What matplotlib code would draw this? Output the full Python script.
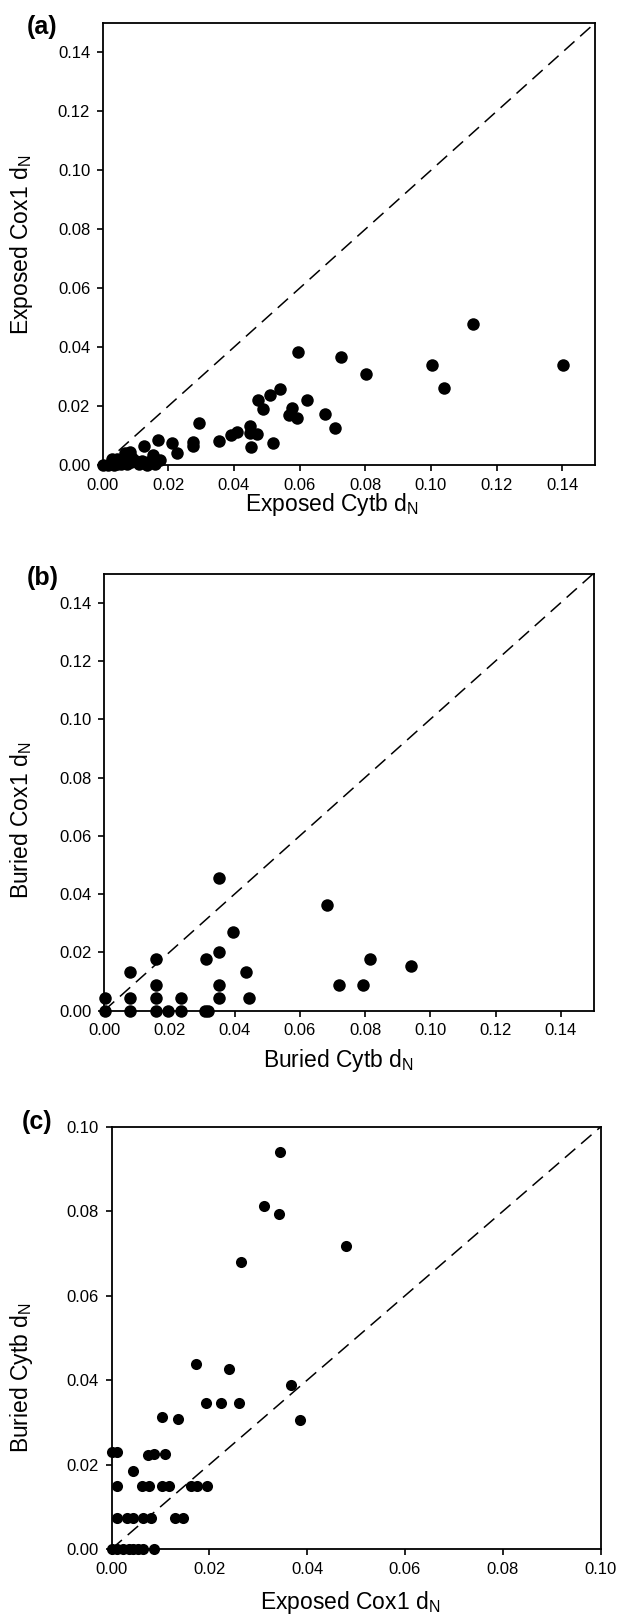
import numpy as np
import matplotlib.pyplot as plt

plt.rcParams['font.family'] = ['Liberation Sans', 'DejaVu Sans']
plt.rcParams['mathtext.default'] = 'regular'

# (a) exposed residues: Cytb dN (x) vs Cox1 dN (y)
exp_cytb = [0.0596, 0.0725, 0.0801, 0.1003, 0.1129, 0.1040, 0.1402,
            0.0541, 0.0510, 0.0473, 0.0488, 0.0621, 0.0576, 0.0568, 0.0591, 0.0677, 0.0707,
            0.0294, 0.0353, 0.0392, 0.0408, 0.0449, 0.0450, 0.0469, 0.0451, 0.0519,
            0.0274, 0.0275, 0.0210, 0.0225, 0.0168, 0.0125,
            0.0083, 0.0068, 0.0027, 0.0154, 0.0174, 0.0139, 0.0120, 0.0100, 0.0085,
            0.0060, 0.0045, 0.0015, 0.0000, 0.0035, 0.0055, 0.0075, 0.0110, 0.0135,
            0.0160, 0.0090, 0.0045]
exp_cox1 = [0.0384, 0.0365, 0.0310, 0.0341, 0.0477, 0.0262, 0.0339,
            0.0259, 0.0236, 0.0220, 0.0191, 0.0219, 0.0193, 0.0171, 0.0160, 0.0172, 0.0126,
            0.0141, 0.0082, 0.0102, 0.0113, 0.0133, 0.0107, 0.0104, 0.0060, 0.0074,
            0.0079, 0.0065, 0.0075, 0.0040, 0.0084, 0.0063,
            0.0043, 0.0040, 0.0020, 0.0034, 0.0017, 0.0010, 0.0015, 0.0012, 0.0010,
            0.0008, 0.0005, 0.0000, 0.0000, 0.0000, 0.0002, 0.0003, 0.0002, 0.0000,
            0.0005, 0.0025, 0.0020]

# (b) buried residues: Cytb dN (x) vs Cox1 dN (y)
bur_cytb = [0.0003, 0.0081, 0.0159, 0.0195, 0.0235, 0.0310, 0.0320,
            0.0003, 0.0081, 0.0159, 0.0235, 0.0353, 0.0444,
            0.0159, 0.0353, 0.0720, 0.0794,
            0.0081, 0.0434,
            0.0159, 0.0312, 0.0814,
            0.0353, 0.0396, 0.0682, 0.0353, 0.0940]
bur_cox1 = [0.0, 0.0, 0.0, 0.0, 0.0, 0.0, 0.0,
            0.0045, 0.0045, 0.0045, 0.0045, 0.0045, 0.0045,
            0.0089, 0.0089, 0.0089, 0.0089,
            0.0133, 0.0133,
            0.0178, 0.0178, 0.0178,
            0.0202, 0.0269, 0.0363, 0.0455, 0.0155]

# (c) exposed Cox1 dN (x) vs buried Cytb dN (y)
c_exp_cox1 = [0.0345, 0.0312, 0.0343, 0.0480, 0.0264, 0.0173, 0.0240, 0.0368,
              0.0194, 0.0223, 0.0261, 0.0385, 0.0103, 0.0136,
              0.0002, 0.0012, 0.0075, 0.0087, 0.0109, 0.0043,
              0.0012, 0.0063, 0.0077, 0.0103, 0.0118, 0.0162, 0.0174, 0.0195,
              0.0011, 0.0031, 0.0043, 0.0064, 0.0081, 0.0130, 0.0147,
              0.0002, 0.0012, 0.0024, 0.0035, 0.0043, 0.0055, 0.0065, 0.0087]
c_bur_cytb = [0.0941, 0.0812, 0.0793, 0.0717, 0.0679, 0.0438, 0.0427, 0.0389,
              0.0346, 0.0346, 0.0346, 0.0305, 0.0313, 0.0308,
              0.0229, 0.0229, 0.0223, 0.0225, 0.0225, 0.0185,
              0.0150, 0.0150, 0.0150, 0.0150, 0.0150, 0.0150, 0.0150, 0.0150,
              0.0073, 0.0073, 0.0073, 0.0073, 0.0073, 0.0073, 0.0073,
              0.0, 0.0, 0.0, 0.0, 0.0, 0.0, 0.0, 0.0]

ticks_a = [0.00, 0.02, 0.04, 0.06, 0.08, 0.10, 0.12, 0.14]
ticks_c = [0.00, 0.02, 0.04, 0.06, 0.08, 0.10]

W, H = 620, 1621
fig = plt.figure(figsize=(W / 100, H / 100), dpi=100)


def px_axes(l, t, r, b):
    # pixel box -> figure fraction
    return fig.add_axes([l / W, 1 - b / H, (r - l) / W, (b - t) / H])


def panel(ax, x, y, lim, ticks, ms, xlabel, ylabel, letter, xl_pos, yl_pos, let_pos):
    ax.plot([0, lim], [0, lim], color='black', lw=1.1, dashes=(9, 5))
    ax.plot(x, y, 'o', color='black', ms=ms, mew=0, clip_on=False, zorder=3)
    ax.set_xlim(0, lim)
    ax.set_ylim(0, lim)
    ax.set_xticks(ticks)
    ax.set_yticks(ticks)
    ax.set_xticklabels(['%.2f' % v for v in ticks])
    ax.set_yticklabels(['%.2f' % v for v in ticks])
    ax.tick_params(direction='out', length=4, width=1.2, labelsize=12, pad=5)
    for s in ax.spines.values():
        s.set_linewidth(1.3)
    fig.text(xl_pos[0] / W, 1 - xl_pos[1] / H, xlabel, fontsize=16.5,
             ha='center', va='center')
    fig.text(yl_pos[0] / W, 1 - yl_pos[1] / H, ylabel, fontsize=16.5,
             ha='center', va='center', rotation=90)
    fig.text(let_pos[0] / W, 1 - let_pos[1] / H, letter, fontsize=18,
             fontweight='bold', ha='center', va='center')


ax_a = px_axes(102.7, 23, 595, 465)
panel(ax_a, exp_cytb, exp_cox1, 0.15, ticks_a, 9,
      'Exposed Cytb d$_N$', 'Exposed Cox1 d$_N$', '(a)',
      (332, 504), (21.5, 245), (42, 27))

ax_b = px_axes(104, 573.5, 593.5, 1010.7)
panel(ax_b, bur_cytb, bur_cox1, 0.15, ticks_a, 9,
      'Buried Cytb d$_N$', 'Buried Cox1 d$_N$', '(b)',
      (338, 1061), (21.5, 820), (43, 578))

ax_c = px_axes(111.5, 1127, 600.5, 1549)
panel(ax_c, c_exp_cox1, c_bur_cytb, 0.10, ticks_c, 8,
      'Exposed Cox1 d$_N$', 'Buried Cytb d$_N$', '(c)',
      (350, 1602), (21.5, 1378), (37, 1122))

fig.savefig('out.png', dpi=100)
